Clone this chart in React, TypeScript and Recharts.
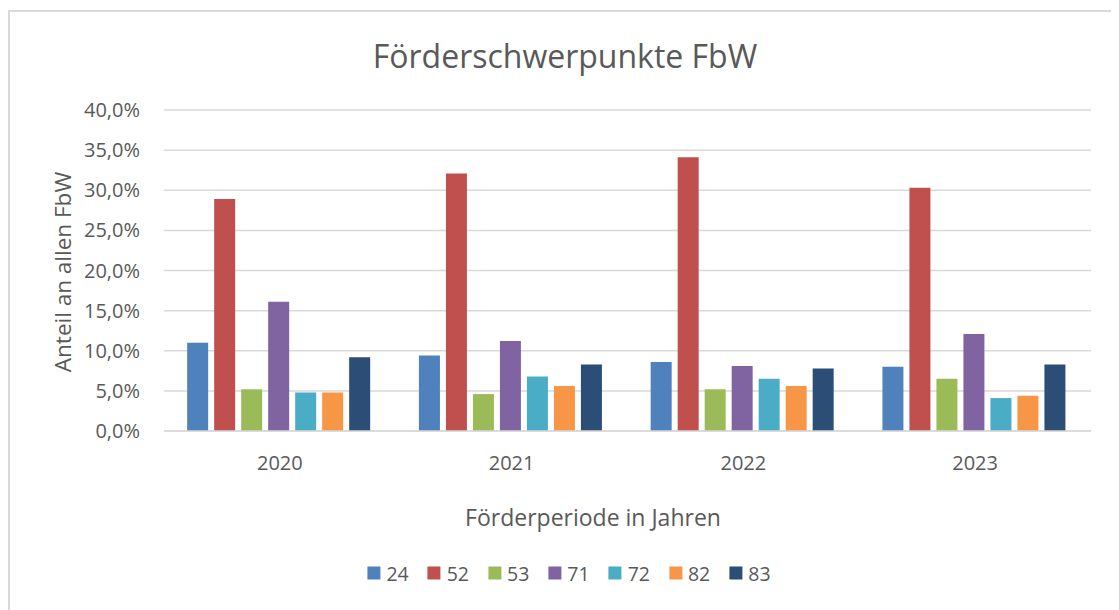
import React from "react";
import { BarChart, Bar, XAxis, YAxis, CartesianGrid } from "recharts";

const years = ["2020", "2021", "2022", "2023"];
const seriesKeys = ["24", "52", "53", "71", "72", "82", "83"];

// Anteil in Prozent je Förderschwerpunkt
const s24 = [11.0, 9.4, 8.6, 8.0];
const s52 = [28.9, 32.1, 34.1, 30.3];
const s53 = [5.2, 4.6, 5.2, 6.5];
const s71 = [16.1, 11.2, 8.1, 12.1];
const s72 = [4.8, 6.8, 6.5, 4.1];
const s82 = [4.8, 5.6, 5.6, 4.4];
const s83 = [9.2, 8.3, 7.8, 8.3];

const yTicks = [0, 5, 10, 15, 20, 25, 30, 35, 40];

const COLORS = ["#4F81BD", "#C0504D", "#9BBB59", "#8064A2", "#4BACC6", "#F79646", "#2C4D75"];

const seriesValues = [s24, s52, s53, s71, s72, s82, s83];

const data = years.map((year, i) => {
  const row: Record<string, number | string> = { year };
  seriesKeys.forEach((k, j) => {
    row[k] = seriesValues[j][i];
  });
  return row;
});

const FONT = "'Open Sans', sans-serif";
const TEXT = "#595959";

const fmt = (v: number) => `${v.toFixed(1).replace(".", ",")}%`;

export default function App() {
  return (
    <div style={{ position: "relative", width: 1111, height: 602, fontFamily: FONT, overflow: "hidden" }}>
      <div
        style={{
          position: "absolute",
          left: 0,
          top: 2,
          width: 1200,
          height: 700,
          borderLeft: "2px solid #d9d9d9",
          borderTop: "2px solid #d9d9d9",
        }}
      />
      <div
        style={{
          position: "absolute",
          left: 557,
          top: 47,
          transform: "translate(-50%, -50%)",
          whiteSpace: "nowrap",
          fontSize: 32,
          color: TEXT,
        }}
      >
        Förderschwerpunkte FbW
      </div>
      <div
        style={{
          position: "absolute",
          left: 54,
          top: 264,
          transform: "translate(-50%, -50%) rotate(-90deg)",
          whiteSpace: "nowrap",
          fontSize: 22.5,
          color: TEXT,
        }}
      >
        Anteil an allen FbW
      </div>
      <div
        style={{
          position: "absolute",
          left: 585,
          top: 509,
          transform: "translate(-50%, -50%)",
          whiteSpace: "nowrap",
          fontSize: 23,
          color: TEXT,
        }}
      >
        Förderperiode in Jahren
      </div>
      <div
        style={{
          position: "absolute",
          left: 561,
          top: 565,
          transform: "translate(-50%, -50%)",
          display: "flex",
          gap: 19,
          whiteSpace: "nowrap",
          fontSize: 19.5,
          color: TEXT,
        }}
      >
        {seriesKeys.map((k, i) => (
          <div key={k} style={{ display: "flex", alignItems: "center", gap: 6 }}>
            <span style={{ display: "inline-block", width: 13, height: 13, background: COLORS[i] }} />
            <span>{k}</span>
          </div>
        ))}
      </div>
      <div style={{ position: "absolute", left: 0, top: 0 }}>
        <BarChart
          width={1100}
          height={600}
          data={data}
          margin={{ top: 102, right: 17, bottom: 147, left: 0 }}
          barGap={6}
          barCategoryGap="10%"
        >
          <CartesianGrid vertical={false} stroke="#d9d9d9" strokeWidth={1.5} />
          <XAxis
            dataKey="year"
            height={30}
            axisLine={{ stroke: "#d9d9d9", strokeWidth: 1.5 }}
            tickLine={false}
            tickSize={0}
            tickMargin={25}
            tick={{ fill: TEXT, fontSize: 20, fontFamily: FONT }}
          />
          <YAxis
            width={156}
            domain={[0, 40]}
            ticks={yTicks}
            axisLine={false}
            tickLine={false}
            tickSize={0}
            tickMargin={24}
            tickFormatter={fmt}
            tick={{ fill: TEXT, fontSize: 20, fontFamily: FONT }}
          />
          {seriesKeys.map((k, i) => (
            <Bar key={k} dataKey={k} fill={COLORS[i]} isAnimationActive={false} />
          ))}
        </BarChart>
      </div>
    </div>
  );
}
